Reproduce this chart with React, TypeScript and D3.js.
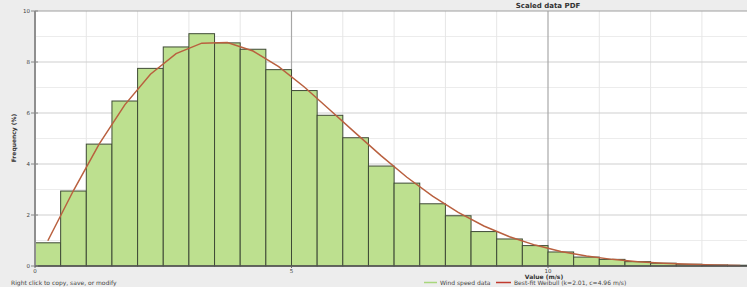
import React from 'react';
import * as d3 from 'd3';

// Histogram bins of 0.5 m/s, frequency in %
const binWidth = 0.5;
const binFreq = [
  0.91, 2.94, 4.78, 6.47, 7.75, 8.59, 9.11, 8.75, 8.5, 7.7,
  6.88, 5.91, 5.03, 3.92, 3.25, 2.44, 1.97, 1.35, 1.06, 0.8,
  0.55, 0.35, 0.26, 0.17, 0.11, 0.07, 0.04, 0.03,
];

// Best-fit Weibull curve, read at bin centres
const curveX = [
  0.25, 0.75, 1.25, 1.75, 2.25, 2.75, 3.25, 3.75, 4.25, 4.75,
  5.25, 5.75, 6.25, 6.75, 7.25, 7.75, 8.25, 8.75, 9.25, 9.75,
  10.25, 10.75, 11.25, 11.75, 12.25, 12.75, 13.25, 13.75,
];
const curveY = [
  0.99, 2.96, 4.78, 6.32, 7.52, 8.33, 8.74, 8.76, 8.43, 7.82,
  7.02, 6.12, 5.21, 4.32, 3.48, 2.74, 2.1, 1.57, 1.15, 0.82,
  0.57, 0.39, 0.26, 0.17, 0.11, 0.067, 0.04, 0.024,
];

const yTicks = [0, 2, 4, 6, 8, 10];
const yMinor = [1, 3, 5, 7, 9];
const xTicks = [0, 5, 10];
const xMinor = [1, 2, 3, 4, 6, 7, 8, 9, 11, 12, 13];

const W = 747;
const H = 287;
const left = 35;
const top = 11;
const bottom = 266;

export default function App() {
  const x = d3.scaleLinear().domain([0, 14]).range([left, left + 14 * 51.3]);
  const y = d3.scaleLinear().domain([0, 10]).range([bottom, top]);

  const line = d3.line<number>()
    .x((_, i) => x(curveX[i]))
    .y(d => y(d));

  const font = "'DejaVu Sans', Verdana, sans-serif";

  return (
    <div style={{ position: 'fixed', left: 0, top: 0 }}>
      <svg width={W} height={H} style={{ display: 'block', fontFamily: font }}>
        <rect x={0} y={0} width={W} height={H} fill="#ededed" />
        <rect x={left} y={top} width={W - left} height={bottom - top} fill="#ffffff" />

        {/* minor grid */}
        {yMinor.map(v => (
          <line key={'ym' + v} x1={left} x2={W} y1={y(v)} y2={y(v)} stroke="#ececec" strokeWidth={1} />
        ))}
        {xMinor.map(v => (
          <line key={'xm' + v} x1={x(v)} x2={x(v)} y1={top} y2={bottom} stroke="#e6e6e6" strokeWidth={1} />
        ))}
        {/* major grid */}
        {yTicks.filter(v => v > 0 && v < 10).map(v => (
          <line key={'yg' + v} x1={left} x2={W} y1={y(v)} y2={y(v)} stroke="#cfcfcf" strokeWidth={1.2} />
        ))}
        {xTicks.filter(v => v > 0).map(v => (
          <line key={'xg' + v} x1={x(v)} x2={x(v)} y1={top} y2={bottom} stroke="#a8a8a8" strokeWidth={1.2} />
        ))}

        {/* bars */}
        {binFreq.map((f, i) => (
          <rect
            key={'b' + i}
            x={x(i * binWidth)}
            y={y(f)}
            width={x((i + 1) * binWidth) - x(i * binWidth)}
            height={bottom - y(f)}
            fill="#bde08f"
            stroke="#3f4a36"
            strokeWidth={1}
          />
        ))}

        {/* weibull fit */}
        <path d={line(curveY) || ''} fill="none" stroke="#b9603f" strokeWidth={1.5} />

        {/* frame */}
        <line x1={left} x2={W} y1={top} y2={top} stroke="#a0a0a0" strokeWidth={1.2} />
        <line x1={left} x2={left} y1={top} y2={bottom} stroke="#8f8f8f" strokeWidth={2} />
        <line x1={left} x2={W} y1={bottom} y2={bottom} stroke="#555" strokeWidth={1.5} />

        {/* y ticks */}
        {yTicks.map(v => (
          <g key={'yt' + v}>
            <line x1={left - 4} x2={left + 3} y1={y(v)} y2={y(v)} stroke="#888" strokeWidth={1} />
            <text x={left - 5} y={y(v)} dy="0.35em" textAnchor="end" fontSize={5.5} fill="#444">{v}</text>
          </g>
        ))}
        {/* x ticks */}
        {xTicks.map(v => (
          <g key={'xt' + v}>
            <line x1={x(v)} x2={x(v)} y1={bottom} y2={bottom + 2} stroke="#666" strokeWidth={1} />
            <text x={x(v)} y={bottom + 6.5} textAnchor="middle" fontSize={5.5} fill="#444">{v}</text>
          </g>
        ))}

        <text x={548} y={8} textAnchor="middle" fontSize={7} fontWeight="bold" fill="#333">Scaled data PDF</text>
        <text transform={`translate(16,138) rotate(-90)`} textAnchor="middle" fontSize={6} fontWeight="bold" fill="#333">Frequency (%)</text>
        <text x={544} y={278.5} textAnchor="middle" fontSize={6} fontWeight="bold" fill="#333">Value (m/s)</text>
        <text x={11} y={285} fontSize={6} fill="#444">Right click to copy, save, or modify</text>

        {/* legend */}
        <line x1={424} x2={437} y1={282.5} y2={282.5} stroke="#a8d77c" strokeWidth={1.5} />
        <text x={440} y={285} fontSize={6} fill="#444">Wind speed data</text>
        <line x1={496} x2={511} y1={282.5} y2={282.5} stroke="#c03a2e" strokeWidth={1.5} />
        <text x={514} y={285} fontSize={6} fill="#444">Best-fit Weibull (k=2.01, c=4.96 m/s)</text>
      </svg>
    </div>
  );
}
